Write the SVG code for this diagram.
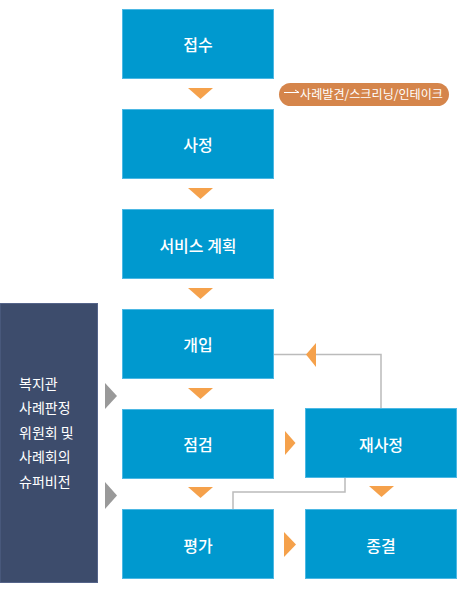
<svg xmlns="http://www.w3.org/2000/svg" width="460" height="593" viewBox="0 0 460 593">
<style>
.box{fill:#0099cf;stroke:#4cb8e4;stroke-width:1}
.t{font-family:"Noto Sans CJK KR","Noto Sans",sans-serif;font-size:16px;font-weight:500;fill:#fff;text-anchor:middle;dominant-baseline:central}
.arr{fill:#f5a14b}
.gar{fill:#999}
.ln{fill:none;stroke:#bbb;stroke-width:1.5}
.pt{font-family:"Noto Sans CJK KR","Noto Sans",sans-serif;font-size:14px;fill:#fff}
</style>
<rect width="460" height="593" fill="#fff"/>
<g id="panel">
<rect x="0" y="303.5" width="97.5" height="279" fill="#3d4c6c" stroke="#55648a" stroke-width="1"/>
<text class="pt" x="19" y="388.5">복지관</text>
<text class="pt" x="19" y="413">사례판정</text>
<text class="pt" x="19" y="437.5">위원회 및</text>
<text class="pt" x="19" y="462">사례회의</text>
<text class="pt" x="19" y="486.5">슈퍼비전</text>
</g>
<g id="connectors">
<polyline class="ln" points="381,408 381,354.5 274,354.5"/>
<polyline class="ln" points="345,478 345,492 233,492 233,509"/>
<polygon class="arr" points="188,88 213,88 200.5,99"/>
<polygon class="arr" points="188,188 213,188 200.5,199"/>
<polygon class="arr" points="188,288 213,288 200.5,299"/>
<polygon class="arr" points="188,388 213,388 200.5,399"/>
<polygon class="arr" points="188,487 213,487 200.5,498"/>
<polygon class="arr" points="369,486 394,486 381.5,497"/>
<polygon class="arr" points="285,431 295.5,443 285,455"/>
<polygon class="arr" points="284,532 296,544.5 284,557"/>
<polygon class="arr" points="306,354.5 316,343 316,367"/>
<polygon class="gar" points="105,383 117,396 105,409"/>
<polygon class="gar" points="105,482 117,495.5 105,509"/>
</g>
<g id="n1"><rect class="box" x="122.5" y="9.5" width="151" height="69"/><text class="t" x="198" y="44">접수</text></g>
<g id="n2"><rect class="box" x="122.5" y="109.5" width="151" height="69"/><text class="t" x="198" y="144">사정</text></g>
<g id="n3"><rect class="box" x="122.5" y="209.5" width="151" height="69"/><text class="t" x="198" y="244.5">서비스 계획</text></g>
<g id="n4"><rect class="box" x="122.5" y="309.5" width="151" height="69"/><text class="t" x="198" y="344">개입</text></g>
<g id="n5"><rect class="box" x="122.5" y="409.5" width="151" height="69"/><text class="t" x="198" y="444">점검</text></g>
<g id="n6"><rect class="box" x="122.5" y="509.5" width="151" height="69"/><text class="t" x="198" y="545">평가</text></g>
<g id="n7"><rect class="box" x="305.5" y="408.5" width="151" height="69"/><text class="t" x="381" y="443.5">재사정</text></g>
<g id="n8"><rect class="box" x="305.5" y="509.5" width="151" height="69"/><text class="t" x="381" y="545">종결</text></g>
<g id="label">
<rect x="279" y="83" width="170" height="23" rx="11.5" fill="#d5854b"/>
<line x1="284" y1="92.5" x2="299" y2="92.5" stroke="#fff" stroke-width="1"/>
<polyline points="295,90 299,92.5" fill="none" stroke="#fff" stroke-width="1"/>
<text x="300" y="98.5" font-family="'Noto Sans CJK KR','Noto Sans',sans-serif" font-size="12" fill="#fff" textLength="143" lengthAdjust="spacingAndGlyphs">사례발견/스크리닝/인테이크</text>
</g>
</svg>
